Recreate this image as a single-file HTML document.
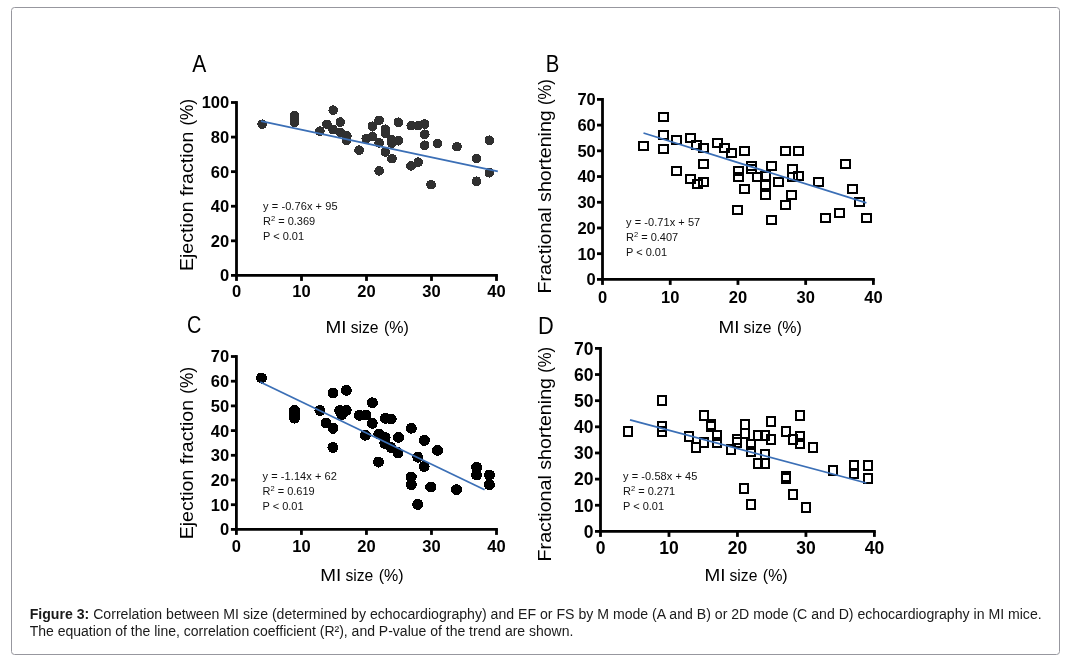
<!DOCTYPE html>
<html><head><meta charset="utf-8"><style>
html,body{margin:0;padding:0;background:#fff;}
body{width:1073px;height:662px;overflow:hidden;}
svg{display:block;font-family:"Liberation Sans",sans-serif;will-change:transform;}
</style></head><body>
<svg width="1073" height="662" viewBox="0 0 1073 662">
<rect x="11.5" y="7.5" width="1048" height="647" rx="3" ry="3" fill="#fff" stroke="#97979e" stroke-width="1"/>
<g fill="#000" font-size="24.5">
<text transform="translate(192.3,71.8) scale(0.86,1)">A</text>
<text transform="translate(545.7,71.8) scale(0.83,1)">B</text>
<text transform="translate(186.9,332.7) scale(0.81,1)">C</text>
<text transform="translate(538.0,334.0) scale(0.89,1)">D</text>
</g>
<g fill="#000" font-size="19">
<text transform="translate(192.5,271.1) rotate(-90)" textLength="139.4" lengthAdjust="spacingAndGlyphs">Ejection fraction</text><text transform="translate(192.5,125.6) rotate(-90)" textLength="26.7" lengthAdjust="spacingAndGlyphs">(%)</text>
<text transform="translate(551,293.6) rotate(-90)" textLength="183.4" lengthAdjust="spacingAndGlyphs">Fractional shortening</text><text transform="translate(551,104.9) rotate(-90)" textLength="25.8" lengthAdjust="spacingAndGlyphs">(%)</text>
<text transform="translate(192.5,539.3) rotate(-90)" textLength="139.4" lengthAdjust="spacingAndGlyphs">Ejection fraction</text><text transform="translate(192.5,393.8) rotate(-90)" textLength="26.7" lengthAdjust="spacingAndGlyphs">(%)</text>
<text transform="translate(550.9,561.4) rotate(-90)" textLength="183.4" lengthAdjust="spacingAndGlyphs">Fractional shortening</text><text transform="translate(550.9,372.7) rotate(-90)" textLength="25.8" lengthAdjust="spacingAndGlyphs">(%)</text>
</g>
<g fill="#000" font-size="16.3">
<text x="325.6" y="333" textLength="21.0" lengthAdjust="spacingAndGlyphs">MI</text><text x="350.7" y="333" textLength="27.9" lengthAdjust="spacingAndGlyphs">size</text><text x="384.0" y="333" textLength="24.9" lengthAdjust="spacingAndGlyphs">(%)</text>
<text x="718.5" y="333" textLength="21.0" lengthAdjust="spacingAndGlyphs">MI</text><text x="743.6" y="333" textLength="27.9" lengthAdjust="spacingAndGlyphs">size</text><text x="776.9" y="333" textLength="24.9" lengthAdjust="spacingAndGlyphs">(%)</text>
<text x="320.3" y="581" textLength="21.0" lengthAdjust="spacingAndGlyphs">MI</text><text x="345.4" y="581" textLength="27.9" lengthAdjust="spacingAndGlyphs">size</text><text x="378.7" y="581" textLength="24.9" lengthAdjust="spacingAndGlyphs">(%)</text>
<text x="704.4" y="581" textLength="21.0" lengthAdjust="spacingAndGlyphs">MI</text><text x="729.5" y="581" textLength="27.9" lengthAdjust="spacingAndGlyphs">size</text><text x="762.8" y="581" textLength="24.9" lengthAdjust="spacingAndGlyphs">(%)</text>
</g>
<g stroke="#000" stroke-width="2.8" fill="none" stroke-linecap="butt">
<line x1="236.5" y1="101.1" x2="236.5" y2="275.4" />
<line x1="235.1" y1="275.4" x2="497.9" y2="275.4" />
<line x1="231.0" y1="275.40" x2="236.5" y2="275.40" />
<line x1="231.0" y1="240.82" x2="236.5" y2="240.82" />
<line x1="231.0" y1="206.24" x2="236.5" y2="206.24" />
<line x1="231.0" y1="171.66" x2="236.5" y2="171.66" />
<line x1="231.0" y1="137.08" x2="236.5" y2="137.08" />
<line x1="231.0" y1="102.50" x2="236.5" y2="102.50" />
<line x1="236.50" y1="275.4" x2="236.50" y2="280.9" />
<line x1="301.50" y1="275.4" x2="301.50" y2="280.9" />
<line x1="366.50" y1="275.4" x2="366.50" y2="280.9" />
<line x1="431.50" y1="275.4" x2="431.50" y2="280.9" />
<line x1="496.50" y1="275.4" x2="496.50" y2="280.9" />
<line x1="602.5" y1="98.0" x2="602.5" y2="279.4" />
<line x1="601.1" y1="279.4" x2="874.8" y2="279.4" />
<line x1="597.0" y1="279.40" x2="602.5" y2="279.40" />
<line x1="597.0" y1="253.69" x2="602.5" y2="253.69" />
<line x1="597.0" y1="227.97" x2="602.5" y2="227.97" />
<line x1="597.0" y1="202.26" x2="602.5" y2="202.26" />
<line x1="597.0" y1="176.54" x2="602.5" y2="176.54" />
<line x1="597.0" y1="150.83" x2="602.5" y2="150.83" />
<line x1="597.0" y1="125.11" x2="602.5" y2="125.11" />
<line x1="597.0" y1="99.40" x2="602.5" y2="99.40" />
<line x1="602.50" y1="279.4" x2="602.50" y2="284.9" />
<line x1="670.23" y1="279.4" x2="670.23" y2="284.9" />
<line x1="737.95" y1="279.4" x2="737.95" y2="284.9" />
<line x1="805.67" y1="279.4" x2="805.67" y2="284.9" />
<line x1="873.40" y1="279.4" x2="873.40" y2="284.9" />
<line x1="236.4" y1="355.1" x2="236.4" y2="529.4" />
<line x1="235.0" y1="529.4" x2="497.9" y2="529.4" />
<line x1="230.9" y1="529.40" x2="236.4" y2="529.40" />
<line x1="230.9" y1="504.70" x2="236.4" y2="504.70" />
<line x1="230.9" y1="480.00" x2="236.4" y2="480.00" />
<line x1="230.9" y1="455.30" x2="236.4" y2="455.30" />
<line x1="230.9" y1="430.60" x2="236.4" y2="430.60" />
<line x1="230.9" y1="405.90" x2="236.4" y2="405.90" />
<line x1="230.9" y1="381.20" x2="236.4" y2="381.20" />
<line x1="230.9" y1="356.50" x2="236.4" y2="356.50" />
<line x1="236.40" y1="529.4" x2="236.40" y2="534.9" />
<line x1="301.43" y1="529.4" x2="301.43" y2="534.9" />
<line x1="366.45" y1="529.4" x2="366.45" y2="534.9" />
<line x1="431.48" y1="529.4" x2="431.48" y2="534.9" />
<line x1="496.50" y1="529.4" x2="496.50" y2="534.9" />
<line x1="600.5" y1="347.0" x2="600.5" y2="531.4" />
<line x1="599.1" y1="531.4" x2="875.8" y2="531.4" />
<line x1="595.0" y1="531.40" x2="600.5" y2="531.40" />
<line x1="595.0" y1="505.26" x2="600.5" y2="505.26" />
<line x1="595.0" y1="479.11" x2="600.5" y2="479.11" />
<line x1="595.0" y1="452.97" x2="600.5" y2="452.97" />
<line x1="595.0" y1="426.83" x2="600.5" y2="426.83" />
<line x1="595.0" y1="400.69" x2="600.5" y2="400.69" />
<line x1="595.0" y1="374.54" x2="600.5" y2="374.54" />
<line x1="595.0" y1="348.40" x2="600.5" y2="348.40" />
<line x1="600.50" y1="531.4" x2="600.50" y2="536.9" />
<line x1="668.98" y1="531.4" x2="668.98" y2="536.9" />
<line x1="737.45" y1="531.4" x2="737.45" y2="536.9" />
<line x1="805.92" y1="531.4" x2="805.92" y2="536.9" />
<line x1="874.40" y1="531.4" x2="874.40" y2="536.9" />
</g>
<g fill="#000" font-size="16.5" font-weight="bold">
<text transform="translate(229.2,281.31)" text-anchor="end">0</text>
<text transform="translate(229.2,246.73)" text-anchor="end">20</text>
<text transform="translate(229.2,212.15)" text-anchor="end">40</text>
<text transform="translate(229.2,177.57)" text-anchor="end">60</text>
<text transform="translate(229.2,142.99)" text-anchor="end">80</text>
<text transform="translate(229.2,108.41)" text-anchor="end">100</text>
<text x="236.50" y="296.9" text-anchor="middle">0</text>
<text x="301.50" y="296.9" text-anchor="middle">10</text>
<text x="366.50" y="296.9" text-anchor="middle">20</text>
<text x="431.50" y="296.9" text-anchor="middle">30</text>
<text x="496.50" y="296.9" text-anchor="middle">40</text>
<text transform="translate(595.8,285.31)" text-anchor="end">0</text>
<text transform="translate(595.8,259.59)" text-anchor="end">10</text>
<text transform="translate(595.8,233.88)" text-anchor="end">20</text>
<text transform="translate(595.8,208.16)" text-anchor="end">30</text>
<text transform="translate(595.8,182.45)" text-anchor="end">40</text>
<text transform="translate(595.8,156.74)" text-anchor="end">50</text>
<text transform="translate(595.8,131.02)" text-anchor="end">60</text>
<text transform="translate(595.8,105.31)" text-anchor="end">70</text>
<text x="602.50" y="302.9" text-anchor="middle">0</text>
<text x="670.23" y="302.9" text-anchor="middle">10</text>
<text x="737.95" y="302.9" text-anchor="middle">20</text>
<text x="805.67" y="302.9" text-anchor="middle">30</text>
<text x="873.40" y="302.9" text-anchor="middle">40</text>
<text transform="translate(229.1,535.31)" text-anchor="end">0</text>
<text transform="translate(229.1,510.61)" text-anchor="end">10</text>
<text transform="translate(229.1,485.91)" text-anchor="end">20</text>
<text transform="translate(229.1,461.21)" text-anchor="end">30</text>
<text transform="translate(229.1,436.51)" text-anchor="end">40</text>
<text transform="translate(229.1,411.81)" text-anchor="end">50</text>
<text transform="translate(229.1,387.11)" text-anchor="end">60</text>
<text transform="translate(229.1,362.41)" text-anchor="end">70</text>
<text x="236.40" y="551.8" text-anchor="middle">0</text>
<text x="301.43" y="551.8" text-anchor="middle">10</text>
<text x="366.45" y="551.8" text-anchor="middle">20</text>
<text x="431.48" y="551.8" text-anchor="middle">30</text>
<text x="496.50" y="551.8" text-anchor="middle">40</text>
</g>
<g fill="#000" font-size="17.5" font-weight="bold">
<text transform="translate(593.5,537.66)" text-anchor="end">0</text>
<text transform="translate(593.5,511.52)" text-anchor="end">10</text>
<text transform="translate(593.5,485.38)" text-anchor="end">20</text>
<text transform="translate(593.5,459.24)" text-anchor="end">30</text>
<text transform="translate(593.5,433.09)" text-anchor="end">40</text>
<text transform="translate(593.5,406.95)" text-anchor="end">50</text>
<text transform="translate(593.5,380.81)" text-anchor="end">60</text>
<text transform="translate(593.5,354.66)" text-anchor="end">70</text>
<text x="600.50" y="553.8" text-anchor="middle">0</text>
<text x="668.98" y="553.8" text-anchor="middle">10</text>
<text x="737.45" y="553.8" text-anchor="middle">20</text>
<text x="805.92" y="553.8" text-anchor="middle">30</text>
<text x="874.40" y="553.8" text-anchor="middle">40</text>
</g>
<g fill="#303030" shape-rendering="crispEdges"><circle cx="262.2" cy="124.3" r="4.85"/>
<circle cx="294.4" cy="115.6" r="4.85"/>
<circle cx="294.4" cy="119" r="4.85"/>
<circle cx="294.4" cy="122.4" r="4.85"/>
<circle cx="333.3" cy="110.2" r="4.85"/>
<circle cx="319.9" cy="131.1" r="4.85"/>
<circle cx="327" cy="124.3" r="4.85"/>
<circle cx="340.3" cy="122.1" r="4.85"/>
<circle cx="333" cy="129.5" r="4.85"/>
<circle cx="340.5" cy="132.5" r="4.85"/>
<circle cx="346.8" cy="136" r="4.85"/>
<circle cx="346.5" cy="140.6" r="4.85"/>
<circle cx="359.1" cy="150.2" r="4.85"/>
<circle cx="372.4" cy="126.2" r="4.85"/>
<circle cx="379.1" cy="120.3" r="4.85"/>
<circle cx="366.2" cy="138.5" r="4.85"/>
<circle cx="372.6" cy="136.3" r="4.85"/>
<circle cx="379.2" cy="142.8" r="4.85"/>
<circle cx="385.4" cy="129.2" r="4.85"/>
<circle cx="385.4" cy="133.3" r="4.85"/>
<circle cx="385.4" cy="152" r="4.85"/>
<circle cx="391.5" cy="139.5" r="4.85"/>
<circle cx="398.3" cy="140.7" r="4.85"/>
<circle cx="392" cy="143.2" r="4.85"/>
<circle cx="392" cy="158.7" r="4.85"/>
<circle cx="379.2" cy="170.8" r="4.85"/>
<circle cx="398.4" cy="122.2" r="4.85"/>
<circle cx="411.2" cy="125.6" r="4.85"/>
<circle cx="418.1" cy="125.6" r="4.85"/>
<circle cx="424.7" cy="124.1" r="4.85"/>
<circle cx="424.7" cy="134.3" r="4.85"/>
<circle cx="424.6" cy="145.2" r="4.85"/>
<circle cx="437.4" cy="143.4" r="4.85"/>
<circle cx="411" cy="165.9" r="4.85"/>
<circle cx="418.3" cy="162.2" r="4.85"/>
<circle cx="431.1" cy="184.7" r="4.85"/>
<circle cx="457" cy="146.7" r="4.85"/>
<circle cx="476.5" cy="158.6" r="4.85"/>
<circle cx="476.5" cy="181.2" r="4.85"/>
<circle cx="489.4" cy="140.2" r="4.85"/>
<circle cx="489.4" cy="172.8" r="4.85"/></g>
<g fill="#000" shape-rendering="crispEdges"><circle cx="261.5" cy="378" r="5.5"/>
<circle cx="294.5" cy="410.5" r="5.5"/>
<circle cx="294.5" cy="414.3" r="5.5"/>
<circle cx="294.5" cy="418.2" r="5.5"/>
<circle cx="320" cy="410.5" r="5.5"/>
<circle cx="326" cy="423" r="5.5"/>
<circle cx="333" cy="428.3" r="5.5"/>
<circle cx="333" cy="393" r="5.5"/>
<circle cx="346.3" cy="390.3" r="5.5"/>
<circle cx="339.7" cy="410.6" r="5.5"/>
<circle cx="346.2" cy="410.3" r="5.5"/>
<circle cx="341.8" cy="414.5" r="5.5"/>
<circle cx="333" cy="447.5" r="5.5"/>
<circle cx="359.4" cy="415.3" r="5.5"/>
<circle cx="365.8" cy="415" r="5.5"/>
<circle cx="372.4" cy="402.8" r="5.5"/>
<circle cx="372.2" cy="423.3" r="5.5"/>
<circle cx="365.4" cy="435.2" r="5.5"/>
<circle cx="378.8" cy="434" r="5.5"/>
<circle cx="385.2" cy="418.3" r="5.5"/>
<circle cx="391.2" cy="419" r="5.5"/>
<circle cx="385.2" cy="437.5" r="5.5"/>
<circle cx="384.8" cy="443.3" r="5.5"/>
<circle cx="391" cy="447.5" r="5.5"/>
<circle cx="398.5" cy="437.3" r="5.5"/>
<circle cx="398" cy="452.7" r="5.5"/>
<circle cx="378.5" cy="462" r="5.5"/>
<circle cx="411.3" cy="428.2" r="5.5"/>
<circle cx="424.4" cy="440.4" r="5.5"/>
<circle cx="437.5" cy="450.3" r="5.5"/>
<circle cx="417.8" cy="457.2" r="5.5"/>
<circle cx="424.2" cy="466.5" r="5.5"/>
<circle cx="411.3" cy="477" r="5.5"/>
<circle cx="411.3" cy="484.8" r="5.5"/>
<circle cx="430.7" cy="487" r="5.5"/>
<circle cx="417.8" cy="504.4" r="5.5"/>
<circle cx="456.5" cy="489.7" r="5.5"/>
<circle cx="476.6" cy="467.2" r="5.5"/>
<circle cx="476.6" cy="475" r="5.5"/>
<circle cx="489.4" cy="475" r="5.5"/>
<circle cx="489.4" cy="484.8" r="5.5"/></g>
<g fill="none" stroke="#000" stroke-width="2" shape-rendering="crispEdges">
<rect x="639.0" y="142.0" width="9" height="8"/>
<rect x="659.0" y="113.0" width="9" height="8"/>
<rect x="659.0" y="131.0" width="9" height="8"/>
<rect x="659.0" y="145.0" width="9" height="8"/>
<rect x="672.0" y="136.0" width="9" height="8"/>
<rect x="672.0" y="167.0" width="9" height="8"/>
<rect x="686.0" y="134.0" width="9" height="8"/>
<rect x="686.0" y="175.0" width="9" height="8"/>
<rect x="692.0" y="141.0" width="9" height="8"/>
<rect x="693.0" y="180.0" width="9" height="8"/>
<rect x="699.0" y="144.0" width="9" height="8"/>
<rect x="699.0" y="160.0" width="9" height="8"/>
<rect x="699.0" y="178.0" width="9" height="8"/>
<rect x="713.0" y="139.0" width="9" height="8"/>
<rect x="720.0" y="144.0" width="9" height="8"/>
<rect x="727.0" y="149.0" width="9" height="8"/>
<rect x="740.0" y="147.0" width="9" height="8"/>
<rect x="734.0" y="167.0" width="9" height="8"/>
<rect x="734.0" y="173.0" width="9" height="8"/>
<rect x="747.0" y="162.0" width="9" height="8"/>
<rect x="747.0" y="165.0" width="9" height="8"/>
<rect x="740.0" y="185.0" width="9" height="8"/>
<rect x="733.0" y="206.0" width="9" height="8"/>
<rect x="753.0" y="173.0" width="9" height="8"/>
<rect x="761.0" y="172.0" width="9" height="8"/>
<rect x="761.0" y="181.0" width="9" height="8"/>
<rect x="761.0" y="191.0" width="9" height="8"/>
<rect x="767.0" y="162.0" width="9" height="8"/>
<rect x="774.0" y="178.0" width="9" height="8"/>
<rect x="767.0" y="216.0" width="9" height="8"/>
<rect x="781.0" y="147.0" width="9" height="8"/>
<rect x="794.0" y="147.0" width="9" height="8"/>
<rect x="788.0" y="165.0" width="9" height="8"/>
<rect x="788.0" y="173.0" width="9" height="8"/>
<rect x="794.0" y="172.0" width="9" height="8"/>
<rect x="787.0" y="191.0" width="9" height="8"/>
<rect x="781.0" y="201.0" width="9" height="8"/>
<rect x="814.0" y="178.0" width="9" height="8"/>
<rect x="821.0" y="214.0" width="9" height="8"/>
<rect x="835.0" y="209.0" width="9" height="8"/>
<rect x="841.0" y="160.0" width="9" height="8"/>
<rect x="848.0" y="185.0" width="9" height="8"/>
<rect x="855.0" y="198.0" width="9" height="8"/>
<rect x="862.0" y="214.0" width="9" height="8"/>
<rect x="624.0" y="427.0" width="8" height="9"/>
<rect x="658.0" y="396.0" width="8" height="9"/>
<rect x="658.0" y="422.0" width="8" height="9"/>
<rect x="658.0" y="427.0" width="8" height="9"/>
<rect x="685.0" y="432.0" width="8" height="9"/>
<rect x="692.0" y="443.0" width="8" height="9"/>
<rect x="700.0" y="411.0" width="8" height="9"/>
<rect x="707.0" y="420.0" width="8" height="9"/>
<rect x="707.0" y="422.0" width="8" height="9"/>
<rect x="700.0" y="438.0" width="8" height="9"/>
<rect x="713.0" y="431.0" width="8" height="9"/>
<rect x="713.0" y="438.0" width="8" height="9"/>
<rect x="727.0" y="445.0" width="8" height="9"/>
<rect x="733.0" y="435.0" width="8" height="9"/>
<rect x="733.0" y="438.0" width="8" height="9"/>
<rect x="741.0" y="420.0" width="8" height="9"/>
<rect x="741.0" y="429.0" width="8" height="9"/>
<rect x="747.0" y="440.0" width="8" height="9"/>
<rect x="747.0" y="447.0" width="8" height="9"/>
<rect x="754.0" y="431.0" width="8" height="9"/>
<rect x="761.0" y="431.0" width="8" height="9"/>
<rect x="767.0" y="417.0" width="8" height="9"/>
<rect x="767.0" y="435.0" width="8" height="9"/>
<rect x="761.0" y="450.0" width="8" height="9"/>
<rect x="754.0" y="459.0" width="8" height="9"/>
<rect x="761.0" y="459.0" width="8" height="9"/>
<rect x="782.0" y="427.0" width="8" height="9"/>
<rect x="789.0" y="435.0" width="8" height="9"/>
<rect x="796.0" y="411.0" width="8" height="9"/>
<rect x="796.0" y="432.0" width="8" height="9"/>
<rect x="796.0" y="439.0" width="8" height="9"/>
<rect x="809.0" y="443.0" width="8" height="9"/>
<rect x="782.0" y="472.0" width="8" height="9"/>
<rect x="782.0" y="474.0" width="8" height="9"/>
<rect x="740.0" y="484.0" width="8" height="9"/>
<rect x="747.0" y="500.0" width="8" height="9"/>
<rect x="789.0" y="490.0" width="8" height="9"/>
<rect x="802.0" y="503.0" width="8" height="9"/>
<rect x="829.0" y="466.0" width="8" height="9"/>
<rect x="850.0" y="461.0" width="8" height="9"/>
<rect x="850.0" y="469.0" width="8" height="9"/>
<rect x="864.0" y="461.0" width="8" height="9"/>
<rect x="864.0" y="474.0" width="8" height="9"/>
</g>
<g stroke="#3b6fb6" stroke-width="1.8">
<line x1="261" y1="121.2" x2="497.8" y2="171.3"/>
<line x1="643.5" y1="133" x2="866.4" y2="202.8"/>
<line x1="260.2" y1="382" x2="484.6" y2="489.8"/>
<line x1="630" y1="419.9" x2="866.3" y2="483"/>
</g>
<g fill="#111" font-size="11">
<text x="263" y="209.8" textLength="74.6">y = -0.76x + 95</text>
<text x="263" y="224.7">R<tspan font-size="7.5" dy="-4">2</tspan><tspan dy="4"> = 0.369</tspan></text>
<text x="263" y="239.8">P &lt; 0.01</text>
<text x="626" y="225.9" textLength="74.2">y = -0.71x + 57</text>
<text x="626" y="240.6">R<tspan font-size="7.5" dy="-4">2</tspan><tspan dy="4"> = 0.407</tspan></text>
<text x="626" y="255.7">P &lt; 0.01</text>
<text x="262.5" y="479.8" textLength="74.4">y = -1.14x + 62</text>
<text x="262.5" y="494.6">R<tspan font-size="7.5" dy="-4">2</tspan><tspan dy="4"> = 0.619</tspan></text>
<text x="262.5" y="510.3">P &lt; 0.01</text>
<text x="623" y="479.5" textLength="74.4">y = -0.58x + 45</text>
<text x="623" y="494.6">R<tspan font-size="7.5" dy="-4">2</tspan><tspan dy="4"> = 0.271</tspan></text>
<text x="623" y="510.3">P &lt; 0.01</text>
</g>
<g fill="#1a1a1a" font-size="14">
<text x="29.7" y="618.9" textLength="1012" lengthAdjust="spacingAndGlyphs"><tspan font-weight="bold">Figure 3:</tspan> Correlation between MI size (determined by echocardiography) and EF or FS by M mode (A and B) or 2D mode (C and D) echocardiography in MI mice.</text>
<text x="29.7" y="635.8">The equation of the line, correlation coefficient (R²), and P-value of the trend are shown.</text>
</g>
</svg>
</body></html>
